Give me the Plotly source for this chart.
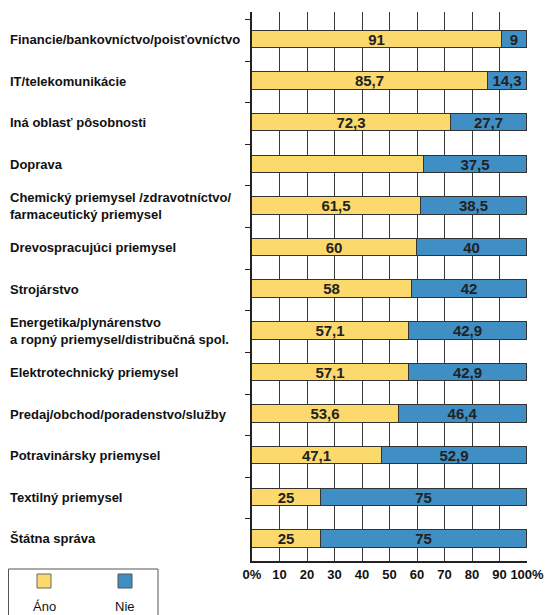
import plotly.graph_objects as go

categories = [
    "Financie/bankovníctvo/poisťovníctvo",
    "IT/telekomunikácie",
    "Iná oblasť pôsobnosti",
    "Doprava",
    "Chemický priemysel /zdravotníctvo/<br>farmaceutický priemysel",
    "Drevospracujúci priemysel",
    "Strojárstvo",
    "Energetika/plynárenstvo<br>a ropný priemysel/distribučná spol.",
    "Elektrotechnický priemysel",
    "Predaj/obchod/poradenstvo/služby",
    "Potravinársky priemysel",
    "Textilný priemysel",
    "Štátna správa",
]
ano = [91, 85.7, 72.3, 62.5, 61.5, 60, 58, 57.1, 57.1, 53.6, 47.1, 25, 25]
nie = [9, 14.3, 27.7, 37.5, 38.5, 40, 42, 42.9, 42.9, 46.4, 52.9, 75, 75]
ano_labels = ["91", "85,7", "72,3", "", "61,5", "60", "58", "57,1", "57,1", "53,6", "47,1", "25", "25"]
nie_labels = ["9", "14,3", "27,7", "37,5", "38,5", "40", "42", "42,9", "42,9", "46,4", "52,9", "75", "75"]
x_tickvals = [0, 10, 20, 30, 40, 50, 60, 70, 80, 90, 100]
x_ticktext = ["0%", "10", "20", "30", "40", "50", "60", "70", "80", "90", "100%"]
legend_names = ["Áno", "Nie"]

YELLOW = "#FCD96C"
BLUE = "#3F8EC4"
FONT = "Liberation Sans, Arial, sans-serif"

ypos = list(range(len(categories)))

# page is offset by the body margin (8px); work in page pixels
def px(xp):
    return (xp - 252) / 275
def py(yp):
    return (561 - yp) / 549

fig = go.Figure()
for vals, labels, col, nm in [(ano, ano_labels, YELLOW, legend_names[0]),
                              (nie, nie_labels, BLUE, legend_names[1])]:
    fig.add_trace(go.Bar(
        y=ypos, x=vals, orientation="h", name=nm,
        marker=dict(color=col, line=dict(color="#333333", width=1)),
        width=0.42, text=labels, textposition="inside", insidetextanchor="middle",
        textangle=0, constraintext="none",
        textfont=dict(family=FONT, size=15, color="#222222", weight="bold"),
        cliponaxis=False,
    ))

annotations = []
for i, c in enumerate(categories):
    annotations.append(dict(
        x=px(8), xref="paper", y=i, yref="y", text="<b>" + c + "</b>",
        showarrow=False, xanchor="left", yanchor="middle", align="left",
        font=dict(family=FONT, size=13, color="#111111"),
    ))

shapes = [
    dict(type="rect", xref="paper", yref="paper",
         x0=px(8.5), x1=px(158), y0=py(620), y1=py(569),
         line=dict(color="#555555", width=1), fillcolor="rgba(0,0,0,0)"),
    dict(type="rect", xref="paper", yref="paper",
         x0=px(37), x1=px(51), y0=py(588), y1=py(574),
         line=dict(color="#666666", width=1), fillcolor=YELLOW),
    dict(type="rect", xref="paper", yref="paper",
         x0=px(118), x1=px(132), y0=py(588), y1=py(574),
         line=dict(color="#555555", width=1), fillcolor=BLUE),
]
annotations.append(dict(x=px(44), y=py(606), xref="paper", yref="paper", text=legend_names[0],
                        showarrow=False, xanchor="center", yanchor="middle",
                        font=dict(family=FONT, size=13, color="#111111")))
annotations.append(dict(x=px(125), y=py(606), xref="paper", yref="paper", text=legend_names[1],
                        showarrow=False, xanchor="center", yanchor="middle",
                        font=dict(family=FONT, size=13, color="#111111")))

fig.update_layout(
    barmode="stack",
    width=544, height=607,
    margin=dict(l=244, r=25, t=4, b=54, autoexpand=False),
    plot_bgcolor="white", paper_bgcolor="white",
    showlegend=False,
    bargap=0,
    annotations=annotations,
    shapes=shapes,
    font=dict(family=FONT),
)
fig.update_xaxes(
    range=[0, 100], tickvals=x_tickvals, ticktext=x_ticktext,
    showgrid=True, gridcolor="#3a3a3a", gridwidth=1,
    showline=True, linecolor="#222222", linewidth=2,
    ticks="", zeroline=False,
    tickfont=dict(family=FONT, size=13, color="#111111", weight="bold"),
    fixedrange=True,
)
fig.update_yaxes(
    range=[12.53, -0.66], tickmode="array", tickvals=[i - 0.48 for i in ypos], ticktext=["" for _ in ypos],
    showgrid=False, showline=True, linecolor="#222222", linewidth=2,
    ticks="outside", ticklen=5, tickcolor="#222222", tickwidth=1,
    zeroline=False, fixedrange=True,
)

fig.write_html("out.html")
